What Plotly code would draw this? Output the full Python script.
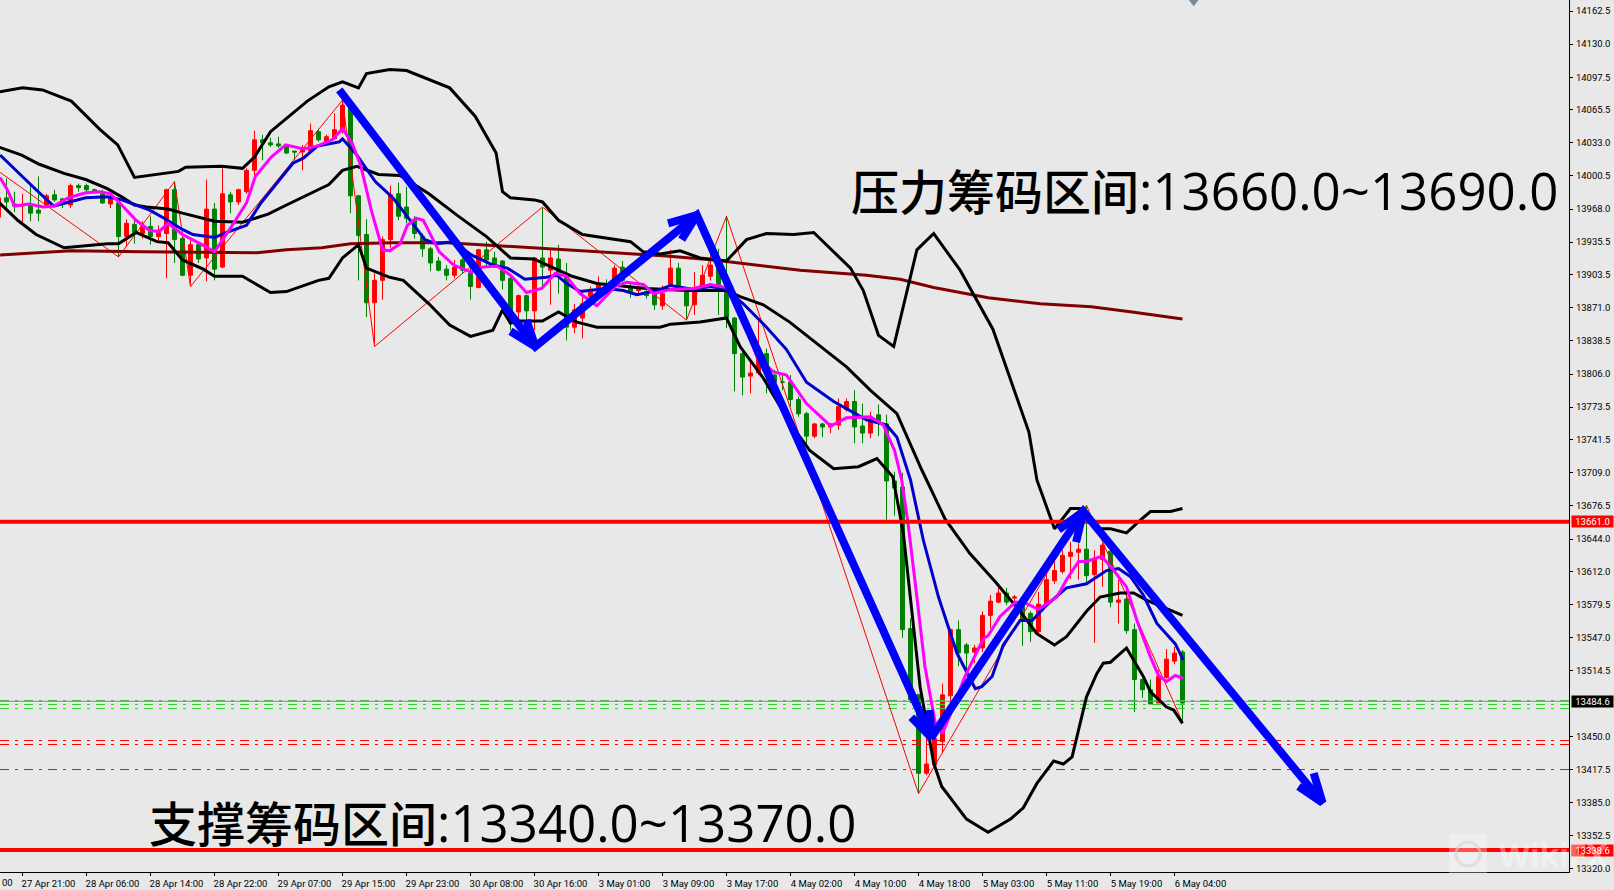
import plotly.graph_objects as go

# H1 candles. bar -1 is the one clipped by the left edge
bars = list(range(-1, 148))
opens = [13960, 13979, 13973, 13971, 13972, 13967, 13972, 13982, 13978, 13972,
         13991, 13991, 13987, 13983, 13973, 13974, 13941, 13953, 13944, 13951,
         13941, 13944, 13987, 13939, 13903, 13933, 13920, 13968, 13911, 13982,
         13975, 13985, 14006, 14036, 14033, 14032, 14030, 14025, 14024, 14025,
         14044, 14034, 14037, 14044, 14070, 13981, 13943, 13876, 13898, 13938,
         13983, 13970, 13958, 13941, 13929, 13917, 13909, 13903, 13918, 13905,
         13891, 13928, 13920, 13917, 13900, 13867, 13883, 13868, 13920, 13908,
         13919, 13902, 13852, 13861, 13882, 13885, 13893, 13892, 13911, 13892,
         13888, 13887, 13885, 13873, 13893, 13910, 13887, 13874, 13893, 13902,
         13913, 13887, 13861, 13826, 13804, 13807, 13826, 13805, 13798, 13798,
         13781, 13767, 13745, 13757, 13754, 13756, 13771, 13779, 13755, 13748,
         13766, 13757, 13701, 13695, 13556, 13491, 13414, 13422, 13445, 13490,
         13555, 13540, 13533, 13537, 13569, 13582, 13591, 13586, 13586, 13571,
         13553, 13579, 13603, 13612, 13627, 13631, 13634, 13609, 13624, 13632,
         13582, 13585, 13555, 13506, 13496, 13483, 13508, 13524, 13533]
highs = [13982, 13998, 13985, 13983, 13992, 14000, 13983, 13987, 13979, 13993,
         13993, 13993, 13988, 13987, 13983, 13979, 13958, 13960, 13956, 13961,
         13952, 13988, 13995, 13941, 13938, 13936, 13997, 13974, 14008, 13985,
         13988, 14008, 14045, 14041, 14038, 14039, 14031, 14025, 14031, 14052,
         14047, 14041, 14062, 14075, 14072, 13982, 13958, 13905, 13941, 13991,
         13994, 13990, 13961, 13944, 13931, 13921, 13913, 13918, 13920, 13911,
         13929, 13936, 13926, 13918, 13903, 13884, 13884, 13921, 13969, 13928,
         13933, 13915, 13875, 13888, 13892, 13902, 13899, 13913, 13917, 13895,
         13893, 13890, 13888, 13893, 13928, 13915, 13890, 13906, 13913, 13926,
         13929, 13961, 13862, 13828, 13821, 13859, 13831, 13810, 13805, 13805,
         13784, 13769, 13758, 13758, 13758, 13782, 13782, 13790, 13777, 13769,
         13776, 13766, 13710, 13709, 13566, 13492, 13473, 13450, 13502, 13556,
         13564, 13542, 13540, 13573, 13589, 13597, 13596, 13589, 13587, 13573,
         13592, 13610, 13627, 13633, 13641, 13640, 13677, 13633, 13640, 13633,
         13604, 13597, 13561, 13507, 13506, 13515, 13536, 13538, 13535]
lows = [13956, 13967, 13965, 13954, 13956, 13956, 13969, 13975, 13969, 13969,
        13985, 13985, 13983, 13973, 13969, 13921, 13931, 13934, 13939, 13933,
        13936, 13900, 13915, 13902, 13893, 13915, 13897, 13898, 13910, 13964,
        13972, 13983, 14000, 14016, 14029, 14028, 14022, 14016, 14006, 14023,
        14034, 14033, 14036, 14042, 13964, 13898, 13862, 13835, 13879, 13930,
        13957, 13954, 13939, 13921, 13907, 13907, 13898, 13900, 13905, 13879,
        13890, 13910, 13910, 13889, 13849, 13859, 13859, 13849, 13892, 13874,
        13885, 13839, 13846, 13841, 13877, 13882, 13885, 13890, 13895, 13881,
        13885, 13880, 13869, 13869, 13892, 13890, 13859, 13864, 13890, 13898,
        13864, 13851, 13789, 13785, 13787, 13805, 13787, 13790, 13790, 13774,
        13764, 13736, 13743, 13744, 13748, 13751, 13769, 13738, 13738, 13743,
        13745, 13663, 13667, 13547, 13483, 13394, 13412, 13420, 13434, 13483,
        13519, 13509, 13522, 13533, 13556, 13581, 13579, 13582, 13539, 13543,
        13551, 13577, 13600, 13610, 13605, 13604, 13602, 13542, 13597, 13577,
        13561, 13551, 13474, 13488, 13482, 13483, 13507, 13521, 13465]
closes = [13979, 13975, 13971, 13972, 13964, 13964, 13981, 13977, 13973, 13991,
          13989, 13987, 13985, 13974, 13979, 13941, 13954, 13945, 13951, 13941,
          13945, 13987, 13938, 13903, 13933, 13919, 13968, 13909, 13983, 13975,
          13987, 14006, 14036, 14033, 14031, 14030, 14023, 14024, 14028, 14045,
          14036, 14039, 14046, 14070, 13981, 13942, 13876, 13898, 13938, 13982,
          13961, 13959, 13944, 13929, 13915, 13908, 13903, 13911, 13908, 13892,
          13928, 13918, 13914, 13898, 13867, 13883, 13868, 13920, 13911, 13920,
          13906, 13852, 13869, 13875, 13887, 13894, 13888, 13910, 13898, 13887,
          13891, 13883, 13874, 13885, 13910, 13893, 13873, 13887, 13903, 13913,
          13893, 13861, 13826, 13803, 13807, 13825, 13807, 13798, 13798, 13781,
          13767, 13745, 13757, 13754, 13757, 13774, 13779, 13754, 13748, 13762,
          13758, 13701, 13694, 13555, 13486, 13414, 13423, 13448, 13491, 13555,
          13532, 13532, 13537, 13569, 13583, 13591, 13582, 13587, 13564, 13553,
          13580, 13604, 13613, 13628, 13631, 13634, 13608, 13624, 13638, 13582,
          13584, 13554, 13506, 13496, 13482, 13509, 13526, 13532, 13483]

# bollinger bands (black)
upper_x = [-1, 2, 4.5, 8.1, 11.7, 13.9, 16, 21.5, 22.4, 26.9, 29.5, 31, 33, 37.6, 40.3, 42, 44, 45, 47.9,
           50, 55.4, 58.6, 61.2, 62, 63, 66, 67, 69, 72, 78, 79.6, 81.7, 84.2, 86.7, 90, 92.5, 95, 98.4,
           100.9, 105.5, 107.1, 109, 110.9, 113.8, 115.9, 119.2, 123.3, 127.8, 128.8, 131, 133, 134.2,
           135, 136.7, 138, 140, 141.8, 143, 145.5, 147]
upper_y = [14083, 14087, 14085, 14074, 14046, 14031, 13999, 14005, 14009, 14010, 14008, 14019, 14044, 14074,
           14088, 14093, 14087, 14101, 14105, 14104, 14087, 14059, 14023, 13985, 13979, 13977, 13975, 13957,
           13943, 13936, 13926, 13924, 13927, 13920, 13917, 13938, 13944, 13943, 13945, 13910, 13888, 13844,
           13833, 13928, 13944, 13908, 13850, 13749, 13702, 13654, 13674, 13674, 13671, 13654, 13654, 13650,
           13663, 13671, 13671, 13674]
middle_x = [-1, 1.9, 4.1, 7.2, 9.9, 12.6, 14.4, 16, 17.5, 20.2, 22, 24.6, 26, 29.5, 32.7, 35, 37.6, 40.3, 42,
            43.8, 46.5, 49.2, 52.8, 56.3, 60, 63, 65.9, 70.7, 73.8, 80, 85, 90, 91.7, 94.6, 97.9, 101.7, 105,
            108, 111.3, 114.4, 117.3, 120.4, 123.6, 126.7, 128.8, 131, 132.5, 135, 136.7, 139.2, 140.9, 142.5,
            145, 147]
middle_y = [14029, 14021, 14012, 14003, 13997, 13988, 13980, 13972, 13970, 13968, 13964, 13959, 13956, 13955,
            13963, 13972, 13982, 13992, 14006, 14010, 14002, 14001, 13983, 13962, 13941, 13920, 13919, 13902,
            13895, 13890, 13888, 13888, 13882, 13874, 13857, 13833, 13813, 13790, 13767, 13712, 13664, 13630,
            13602, 13573, 13551, 13540, 13548, 13573, 13587, 13591, 13591, 13584, 13576, 13569]
lower_x = [-1, 1.4, 3.7, 7.2, 9.9, 12.6, 14, 16.2, 18.8, 20.2, 22, 24.6, 26, 29.5, 33, 35, 39, 40.3, 42, 44, 45,
           47.9, 49.6, 52.8, 55.4, 58, 60.8, 62, 63, 63.9, 67, 69, 71.3, 73.8, 81.7, 83, 86.7, 90, 91.7, 94.6,
           97.9, 100.4, 103.4, 106.5, 108.8, 110.8, 112.1, 113.6, 114.2, 115.9, 116.9, 120, 122.7, 125.5, 127.1,
           128.8, 130.9, 132.1, 133.2, 135, 136.3, 137.1, 138, 140, 142.1, 143, 145, 145.9, 147]
lower_y = [13975, 13957, 13943, 13930, 13932, 13934, 13934, 13945, 13936, 13935, 13918, 13909, 13902, 13902,
           13886, 13887, 13898, 13900, 13920, 13933, 13910, 13901, 13898, 13875, 13854, 13843, 13849, 13869,
           13856, 13858, 13858, 13867, 13857, 13852, 13852, 13855, 13857, 13861, 13833, 13802, 13758, 13731,
           13713, 13715, 13723, 13705, 13650, 13538, 13499, 13424, 13401, 13369, 13356, 13369, 13380, 13404,
           13426, 13423, 13430, 13489, 13512, 13522, 13523, 13537, 13509, 13494, 13479, 13476, 13463]

# fast ma (magenta), slow ma (blue), long ma (maroon)
magenta_x = [-0.8, 0.1, 1, 2.8, 4.6, 5.9, 7.7, 9.9, 11.7, 13, 14.4, 16.2, 17.9, 19.1, 20.2, 22, 24.2, 26, 27.8, 30,
             31.1, 33.1, 34.9, 37.1, 38.9, 40.7, 42, 43.2, 44.3, 45.6, 47, 47.9, 49.2, 50.1, 51.2, 52.1, 54.1,
             55.9, 58.1, 59.5, 61.3, 63, 65, 66.9, 68.6, 70, 71.7, 73.8, 76.1, 77.5, 79.6, 80.9, 83, 85.9, 88, 90,
             91.7, 93.8, 95.9, 97.5, 100, 103, 105, 108, 109.6, 111, 111.9, 112.7, 113.8, 114.8, 116.1, 117,
             118.2, 119.8, 121.1, 122.1, 122.7, 124.2, 126.1, 127.1, 129, 131.3, 132.5, 134, 135, 136.9, 138.4,
             140, 141.3, 143, 144, 145, 146.1, 147.1]
magenta_y = [13999, 13987, 13971, 13973, 13970, 13971, 13979, 13984, 13985, 13983, 13972, 13957, 13947, 13946,
             13954, 13943, 13934, 13926, 13947, 13974, 14000, 14019, 14031, 14027, 14030, 14036, 14047, 14033,
             14010, 13967, 13928, 13927, 13934, 13952, 13959, 13957, 13926, 13913, 13906, 13911, 13912, 13903,
             13886, 13890, 13905, 13902, 13885, 13873, 13892, 13896, 13894, 13885, 13889, 13890, 13894, 13891,
             13866, 13823, 13808, 13805, 13777, 13755, 13763, 13764, 13756, 13731, 13702, 13659, 13587, 13519,
             13463, 13453, 13476, 13509, 13530, 13546, 13549, 13568, 13582, 13582, 13575, 13587, 13604, 13622,
             13622, 13627, 13613, 13597, 13564, 13528, 13510, 13504, 13510, 13507]
blue_x = [-0.8, 1.9, 3.7, 5.9, 8.1, 9.9, 12.6, 14.4, 16.2, 17.9, 19.7, 22, 23.3, 26, 27.8, 30, 31.8, 34, 35.8, 37.1,
          38.9, 41.6, 42, 43.8, 46.1, 48.3, 50.5, 52.3, 53.7, 55.9, 58.1, 60.8, 62.6, 64.8, 67.5, 68.8, 70, 71.7,
          75, 77.1, 78.8, 81.3, 83, 85.9, 88, 90, 92.1, 95, 97.5, 100, 103.4, 107.5, 110, 111.3, 113, 114.6, 116.5,
          117.7, 118.8, 121.1, 121.9, 123.2, 124.6, 126.7, 128.2, 130, 132.5, 135, 137.5, 139, 140.5, 142.1,
          143.8, 146.1, 147.1]
blue_y = [14021, 14000, 13987, 13971, 13975, 13979, 13980, 13977, 13972, 13967, 13959, 13948, 13943, 13940, 13946,
          13952, 13974, 13995, 14013, 14018, 14030, 14034, 14037, 14021, 13995, 13979, 13957, 13938, 13934, 13936,
          13923, 13913, 13910, 13899, 13901, 13903, 13895, 13887, 13890, 13888, 13884, 13888, 13893, 13889, 13892,
          13889, 13875, 13852, 13830, 13798, 13779, 13761, 13756, 13744, 13702, 13643, 13587, 13558, 13532, 13497,
          13499, 13509, 13540, 13564, 13564, 13579, 13596, 13600, 13613, 13615, 13607, 13589, 13561, 13541, 13525]
maroon_x = [-0.8, 3.7, 8.1, 17, 26, 31.3, 35, 39.4, 43, 48.3, 55, 61.7, 65.9, 70, 78.4, 82.5, 88.4, 95, 99.2, 107.5,
            111.7, 115.9, 119.2, 122.7, 129.2, 135.6, 140.7, 147]
maroon_y = [13923, 13925, 13927, 13926, 13925, 13925, 13928, 13930, 13934, 13935, 13935, 13932, 13930, 13928, 13924,
            13922, 13918, 13912, 13908, 13903, 13899, 13891, 13886, 13881, 13875, 13872, 13867, 13860]

# thin red zigzag
zigzag_x = [-0.8, 14, 21, 23, 42, 46, 67, 85, 90, 114, 135, 147]
zigzag_y = [14004, 13921, 13995, 13892, 14075, 13833, 13970, 13859, 13961, 13394, 13677, 13464]

# hand drawn blue arrows: one long stroke, then the two arms of each head
arrow_x = [41.6, 66.1, 86.3, 115.6, 134.6, 164.5]
arrow_y = [14085, 13833, 13962, 13449, 13671, 13385]
head_x = [63, 66.1, 65, None, 82.7, 86.3, 84.4, None, 113.1, 115.6, 115.4, None,
          131.5, 134.6, 133.7, None, 161.5, 164.5, 163.4]
head_y = [13848, 13833, 13859, None, 13954, 13962, 13938, None, 13469, 13449, 13476, None,
          13653, 13671, 13641, None, 13401, 13385, 13414]

# horizontal levels
thick_levels = [13661.0, 13338.6]
green_levels = [13485.4, 13481.5, 13477.5]
red_levels = [13446.1, 13442.2, 13417.6]
bid_level = 13484.6

y_ticks = [14162.5, 14130.0, 14097.5, 14065.5, 14033.0, 14000.5, 13968.0, 13935.5, 13903.5, 13871.0,
           13838.5, 13806.0, 13773.5, 13741.5, 13709.0, 13676.5, 13644.0, 13612.0, 13579.5, 13547.0,
           13514.5, 13450.0, 13417.5, 13385.0, 13352.5, 13320.0]
x_ticks = list(range(2, 147, 8))
x_labels = ["27 Apr 21:00", "28 Apr 06:00", "28 Apr 14:00", "28 Apr 22:00", "29 Apr 07:00", "29 Apr 15:00",
            "29 Apr 23:00", "30 Apr 08:00", "30 Apr 16:00", "3 May 01:00", "3 May 09:00", "3 May 17:00",
            "4 May 02:00", "4 May 10:00", "4 May 18:00", "5 May 03:00", "5 May 11:00", "5 May 19:00",
            "6 May 04:00"]

WIDTH, HEIGHT = 1614, 890
PLOT_W, PLOT_H = 1569, 872
BG = "#e8e8e8"
AXIS_FONT = dict(family="Roboto", size=9.5, color="black")
x_range = [-6.5 / 8, (PLOT_W - 6.5) / 8]
y_range = [14173.3 - 0.982 * PLOT_H, 14173.3]
left_end, right_end = x_range


def line_trace(x, y, color, width, dash="solid"):
    return go.Scatter(x=x, y=y, mode="lines", line=dict(color=color, width=width, dash=dash),
                      hoverinfo="skip", showlegend=False)


def zone_text(name, zone):
    # CJK and digits use different sizes in the original
    latin = "font-family:'Open Sans';font-size:51px"
    return f"{name}<span style=\"{latin}\">:{zone}</span>"


fig = go.Figure()
fig.add_trace(go.Candlestick(x=bars, open=opens, high=highs, low=lows, close=closes,
                             increasing=dict(line=dict(color="#ff0000", width=1), fillcolor="#ff0000"),
                             decreasing=dict(line=dict(color="#008000", width=1), fillcolor="#008000"),
                             whiskerwidth=0, hoverinfo="skip", showlegend=False))

for level in green_levels:
    fig.add_trace(line_trace([left_end, right_end], [level, level], "#32cd32", 1, "9px,6px,3px,6px"))
for level in red_levels:
    fig.add_trace(line_trace([left_end, right_end], [level, level], "#ff0000", 1, "9px,6px,3px,6px"))
fig.add_trace(line_trace([left_end, right_end], [bid_level, bid_level], "#778899", 1))

fig.add_trace(line_trace(zigzag_x, zigzag_y, "#ff0000", 1))
fig.add_trace(line_trace(maroon_x, maroon_y, "#800000", 3))
fig.add_trace(line_trace(upper_x, upper_y, "#000000", 3))
fig.add_trace(line_trace(middle_x, middle_y, "#000000", 3))
fig.add_trace(line_trace(lower_x, lower_y, "#000000", 3))
fig.add_trace(line_trace(blue_x, blue_y, "#0000cd", 3))
fig.add_trace(line_trace(magenta_x, magenta_y, "#ff00ff", 3))

for level in thick_levels:
    fig.add_trace(line_trace([left_end, right_end], [level, level], "#ff0000", 4))

fig.add_trace(go.Scatter(x=arrow_x, y=arrow_y, mode="lines", line=dict(color="#0000ff", width=8),
                         cliponaxis=True, hoverinfo="skip", showlegend=False))
fig.add_trace(go.Scatter(x=head_x, y=head_y, mode="lines", line=dict(color="#0000ff", width=8),
                         hoverinfo="skip", showlegend=False))
# period separator marker at the top of the chart
fig.add_trace(go.Scatter(x=[148.4], y=[14172], mode="markers",
                         marker=dict(symbol="triangle-down", size=10, color="#778899"),
                         hoverinfo="skip", showlegend=False))


def tag(level, bg):
    return dict(xref="paper", yref="y", x=1571 / PLOT_W, y=level, xanchor="left", yanchor="middle",
                text=f"{level:.1f}", showarrow=False, bgcolor=bg, width=41, height=11, borderpad=0,
                font=dict(family="Roboto", size=9.5, color="white"))


annotations = [
    dict(xref="paper", yref="paper", x=849 / PLOT_W, y=1 - 190 / PLOT_H, xanchor="left", yanchor="middle",
         text=zone_text("压力筹码区间", "13660.0~13690.0"), showarrow=False,
         font=dict(family="Noto Sans CJK SC", size=48, weight=500, color="black")),
    dict(xref="paper", yref="paper", x=147 / PLOT_W, y=1 - 821 / PLOT_H, xanchor="left", yanchor="middle",
         text=zone_text("支撑筹码区间", "13340.0~13370.0"), showarrow=False,
         font=dict(family="Noto Sans CJK SC", size=48, weight=500, color="black")),
    dict(xref="paper", yref="paper", x=0, y=1 - 882 / PLOT_H, xanchor="left", yanchor="middle",
         text="00", showarrow=False, font=AXIS_FONT),
    tag(thick_levels[0], "#ff0000"),
    tag(bid_level, "#000000"),
    tag(thick_levels[1], "#ff0000"),
    dict(xref="paper", yref="paper", x=1497 / PLOT_W, y=1 - 854 / PLOT_H, xanchor="left", yanchor="middle",
         text="WikiFX", showarrow=False,
         font=dict(family="Noto Sans", size=32, weight="bold", color="rgba(255,255,255,0.4)")),
]

# watermark badge
shapes = [
    dict(type="rect", xref="paper", yref="paper", x0=1449 / PLOT_W, x1=1487 / PLOT_W,
         y0=1 - 873 / PLOT_H, y1=1 - 834 / PLOT_H, fillcolor="rgba(255,255,255,0.3)", line=dict(width=0)),
    dict(type="circle", xref="paper", yref="paper", x0=1456 / PLOT_W, x1=1480 / PLOT_W,
         y0=1 - 866 / PLOT_H, y1=1 - 842 / PLOT_H, line=dict(color="rgba(210,210,210,0.6)", width=3)),
]

fig.update_layout(
    width=WIDTH, height=HEIGHT, margin=dict(l=0, r=WIDTH - PLOT_W, t=0, b=HEIGHT - PLOT_H),
    paper_bgcolor=BG, plot_bgcolor=BG, showlegend=False, boxgap=0.3,
    annotations=annotations, shapes=shapes,
    xaxis=dict(range=x_range, rangeslider=dict(visible=False), showgrid=False, zeroline=False,
               showline=True, linecolor="black", linewidth=1, ticks="outside", ticklen=3, tickcolor="black",
               tickmode="array", tickvals=x_ticks, ticktext=x_labels, tickangle=0, tickfont=AXIS_FONT,
               ticklabelshift=26, ticklabelstandoff=0),
    yaxis=dict(range=y_range, side="right", showgrid=False, zeroline=False,
               showline=True, linecolor="black", linewidth=1, ticks="outside", ticklen=3, tickcolor="black",
               tickmode="array", tickvals=y_ticks, ticktext=[f"{v:.1f}" for v in y_ticks], tickfont=AXIS_FONT,
               ticklabelstandoff=1),
)

# the page's default body margin would push the chart off the window
fig.write_html("out.html", config=dict(displayModeBar=False),
               post_script="document.body.style.margin='0';document.documentElement.style.overflow='hidden';")
